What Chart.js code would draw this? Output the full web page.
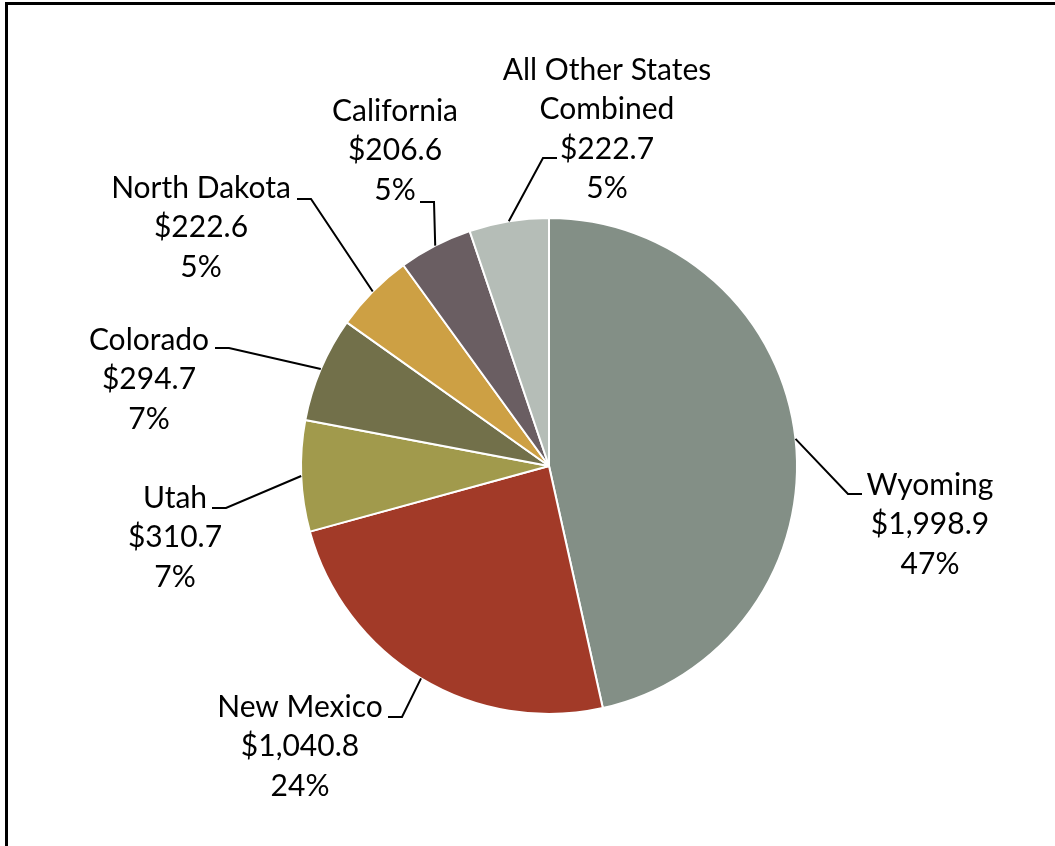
<!DOCTYPE html>
<html>
<head>
<meta charset="utf-8">
<script src="https://cdn.jsdelivr.net/npm/chart.js@4/dist/chart.umd.min.js"></script>
<style>
  html, body { margin: 0; padding: 0; background: #fff; }
  #wrap { position: relative; width: 1055px; height: 846px; overflow: hidden; }
  #frame { position: absolute; left: 5px; top: 2px; width: 1200px; height: 1000px;
           border-left: 3px solid #000; border-top: 3px solid #000; }
  canvas { position: absolute; left: 0; top: 0; }
</style>
</head>
<body>
<div id="wrap">
  <div id="frame"></div>
  <canvas id="c" width="1055" height="846"></canvas>
</div>
<script>
// ---- data ----
const categories = ["Wyoming", "New Mexico", "Utah", "Colorado", "North Dakota", "California", "All Other States Combined"];
const values = [1998.9, 1040.8, 310.7, 294.7, 222.6, 206.6, 222.7];
const labelNames = [["Wyoming"], ["New Mexico"], ["Utah"], ["Colorado"], ["North Dakota"], ["California"], ["All Other States", "Combined"]];
const colors = ["#838F86", "#A23A28", "#A19A4C", "#72704A", "#CDA044", "#6A5E62", "#B5BDB7"];

// ---- label layout (offsets from pie centre, px) ----
// text: centre x and first-line y; anchor: end of the short horizontal leader segment; side: +1 text right of leader, -1 left
const labelLayout = [
  { tx: 381, ty: 19,  ax: 313, ay: 28,  side: 1 },
  { tx: -249, ty: 241, ax: -161, ay: 251, side: -1 },
  { tx: -374, ty: 32, ax: -337, ay: 42, side: -1 },
  { tx: -400, ty: -126, ax: -334, ay: -118, side: -1 },
  { tx: -348, ty: -278, ax: -252, ay: -267, side: -1 },
  { tx: -154, ty: -355, ax: -129, ay: -264, side: -1 },
  { tx: 58, ty: -396, ax: 8, ay: -308, side: 1 }
];
const FONT = '30px Lato, "Open Sans", sans-serif';
const LINE_H = 39.5;
const SEG = 14;

const total = values.reduce((a, b) => a + b, 0);
function fmtMoney(v) {
  return "$" + v.toLocaleString("en-US", { minimumFractionDigits: 1, maximumFractionDigits: 1 });
}

const labelPlugin = {
  id: "pieLabels",
  afterDatasetsDraw(chart) {
    const ctx = chart.ctx;
    const meta = chart.getDatasetMeta(0);
    ctx.save();
    ctx.font = FONT;
    ctx.fillStyle = "#000";
    ctx.textAlign = "center";
    ctx.textBaseline = "middle";
    meta.data.forEach((arc, i) => {
      const cx = arc.x, cy = arc.y, r = arc.outerRadius;
      const mid = (arc.startAngle + arc.endAngle) / 2;
      const px = cx + Math.cos(mid) * r;
      const py = cy + Math.sin(mid) * r;
      const L = labelLayout[i];
      const ax = cx + L.ax, ay = cy + L.ay;
      const ex = ax - L.side * SEG;
      ctx.strokeStyle = "#000";
      ctx.lineWidth = 2;
      ctx.beginPath();
      ctx.moveTo(px, py);
      ctx.lineTo(ex, ay);
      ctx.lineTo(ax, ay);
      ctx.stroke();
      const lines = labelNames[i].concat([fmtMoney(values[i]), Math.round(values[i] / total * 100) + "%"]);
      lines.forEach((t, k) => {
        ctx.fillText(t, cx + L.tx, cy + L.ty + k * LINE_H);
      });
    });
    ctx.restore();
  }
};

new Chart(document.getElementById("c"), {
  type: "pie",
  data: {
    labels: categories,
    datasets: [{
      data: values,
      backgroundColor: colors,
      borderColor: "#ffffff",
      borderWidth: 2,
      hoverOffset: 0
    }]
  },
  options: {
    responsive: false,
    animation: false,
    layout: { padding: { left: 300, right: 257, top: 217, bottom: 131 } },
    plugins: { legend: { display: false }, tooltip: { enabled: false } }
  },
  plugins: [labelPlugin]
});
</script>
</body>
</html>
